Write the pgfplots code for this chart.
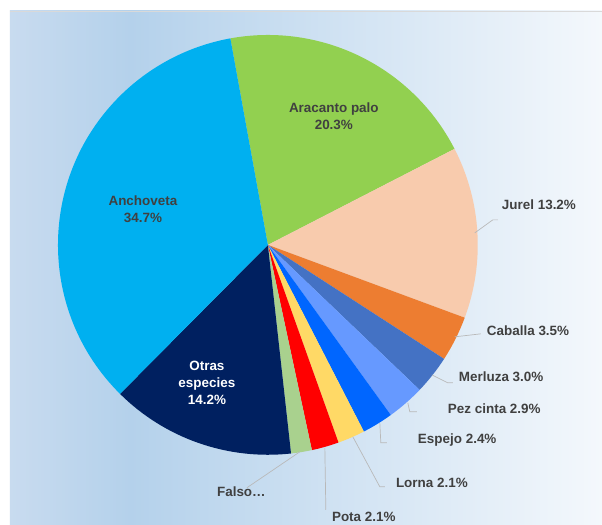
\documentclass[border=0pt]{standalone}
\usepackage{pgfplots}
\pgfplotsset{compat=1.18}
\usepackage{pgfplotstable}
\usepackage{fontspec}
\setmainfont{Liberation Sans}

\definecolor{cAra}{HTML}{92D050}
\definecolor{cJur}{HTML}{F8CBAD}
\definecolor{cCab}{HTML}{ED7D31}
\definecolor{cMer}{HTML}{4472C4}
\definecolor{cPez}{HTML}{6699FF}
\definecolor{cEsp}{HTML}{0066FF}
\definecolor{cLor}{HTML}{FFD966}
\definecolor{cPot}{HTML}{FF0000}
\definecolor{cFal}{HTML}{A9D18E}
\definecolor{cOtr}{HTML}{002060}
\definecolor{cAnc}{HTML}{00B0F0}
\definecolor{bgA}{HTML}{C8DBEF}
\definecolor{bgB}{HTML}{B4D1EB}
\definecolor{bgC}{HTML}{F4F8FC}
\definecolor{txt}{HTML}{404040}

% share in percent, clockwise from the top
\pgfplotstableread{
name value col
Aracanto 20.3 cAra
Jurel 13.2 cJur
Caballa 3.5 cCab
Merluza 3.0 cMer
PezCinta 2.9 cPez
Espejo 2.4 cEsp
Lorna 2.1 cLor
Pota 2.1 cPot
Falso 1.6 cFal
Otras 14.2 cOtr
Anchoveta 34.7 cAnc
}\piedata

\begin{document}
\begin{tikzpicture}[
    lab/.style={font=\fontsize{13.5}{17}\selectfont\bfseries, text=txt, inner sep=0pt},
    lead/.style={draw=gray!55, line width=0.7pt}]
\begin{axis}[
    scale only axis, width=602bp, height=525bp,
    xmin=0, xmax=602, ymin=0, ymax=525, y dir=reverse,
    hide axis, clip=false, at={(0,0)}, anchor=south west]
  \fill[white] (axis cs:0,0) rectangle (axis cs:602,525);
  \shade[left color=bgA, right color=bgB] (axis cs:10,11) rectangle (axis cs:130.5,525);
  \shade[left color=bgB, right color=bgC] (axis cs:130,11) rectangle (axis cs:602,525);
  \draw[color=black!15, line width=0.6pt] (axis cs:10,11) -- (axis cs:602,11);

  \pgfplotstablegetrowsof{\piedata}
  \pgfmathtruncatemacro\lastrow{\pgfplotsretval-1}
  \xdef\cum{100.3}
  \pgfplotsinvokeforeach{0,...,\lastrow}{
    \pgfplotstablegetelem{#1}{value}\of\piedata
    \pgfmathsetmacro\nextcum{\cum-3.6*\pgfplotsretval}
    \pgfplotstablegetelem{#1}{col}\of\piedata
    \edef\doslice{\noexpand\fill[\pgfplotsretval] (axis cs:268,245) -- ++(\cum:210bp)
      arc[start angle=\cum, end angle=\nextcum, radius=210bp] -- cycle;}
    \doslice
    \xdef\cum{\nextcum}
  }

  % labels inside
  \node[lab, align=center] at (axis cs:334,116) {Aracanto palo\\20.3\%};
  \node[lab, align=center] at (axis cs:143,209) {Anchoveta\\34.7\%};
  \node[lab, align=center, text=white] at (axis cs:207,383) {Otras\\especies\\14.2\%};

  % leader lines
  \draw[lead] (axis cs:475,233) -- (axis cs:493,220) -- (axis cs:498,220);
  \draw[lead] (axis cs:455,337) -- (axis cs:481,334);
  \draw[lead] (axis cs:432,375) -- (axis cs:448,383) -- (axis cs:453,383);
  \draw[lead] (axis cs:408,403) -- (axis cs:410,412) -- (axis cs:417,412);
  \draw[lead] (axis cs:380,423) -- (axis cs:381,443) -- (axis cs:387,443);
  \draw[lead] (axis cs:353,437) -- (axis cs:380,487) -- (axis cs:385,487);
  \draw[lead] (axis cs:325,448) -- (axis cs:326,510);
  \draw[lead] (axis cs:300,452) -- (axis cs:247,488);

  % labels outside
  \node[lab, anchor=west] at (axis cs:502,205) {Jurel 13.2\%};
  \node[lab, anchor=west] at (axis cs:487,331) {Caballa 3.5\%};
  \node[lab, anchor=west] at (axis cs:459,377) {Merluza 3.0\%};
  \node[lab, anchor=west] at (axis cs:448,409) {Pez cinta 2.9\%};
  \node[lab, anchor=west] at (axis cs:418,440) {Espejo 2.4\%};
  \node[lab, anchor=west] at (axis cs:396,483) {Lorna 2.1\%};
  \node[lab, anchor=west] at (axis cs:332,517) {Pota 2.1\%};
  \node[lab, anchor=west] at (axis cs:217,492) {Falso…};
\end{axis}
\end{tikzpicture}
\end{document}
